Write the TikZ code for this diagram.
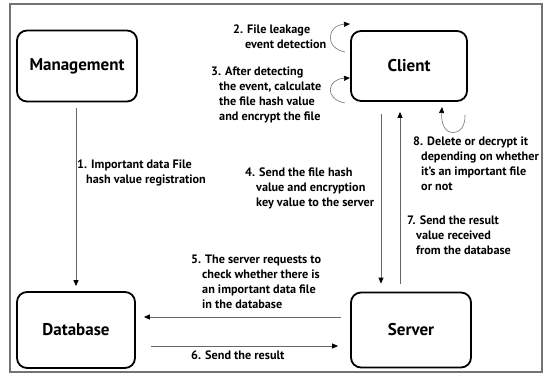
\documentclass[tikz,border=0pt]{standalone}
\usepackage{fontspec}
\setmainfont{PT Sans}
\usetikzlibrary{arrows.meta,calc}
\begin{document}
\begin{tikzpicture}[x=1pt,y=-1pt,
  box/.style={draw=black,line width=1.8pt,rounded corners=10pt,align=center,
    font=\fontsize{17}{20}\selectfont\bfseries},
  lbl/.style={anchor=north west,inner sep=0pt,align=left,
    font=\fontsize{12.2}{15}\selectfont\bfseries},
  arr/.style={draw=black!60,line width=0.8pt,-{Triangle[length=6pt,width=5pt,fill=black,color=black]}},
  loop/.style={draw=black!55,line width=0.6pt,-{Triangle[length=6pt,width=5pt,fill=black,color=black]}}]
\useasboundingbox (0,0) rectangle (548,375);
\draw[black!55,line width=1.2pt] (10,4) rectangle (542,372);

\node[box,minimum width=120pt,minimum height=71pt] (mgmt) at (77,66) {Management};
\node[box,minimum width=116pt,minimum height=70pt] (client) at (409,66) {Client};
\node[box,minimum width=118pt,minimum height=76pt] (db) at (76,330) {Database};
\node[box,minimum width=120pt,minimum height=75pt] (server) at (411,330) {Server};

% 1
\draw[arr,shorten <=6pt,shorten >=5pt] ([xshift=-1pt]mgmt.south) -- ([xshift=-1pt]mgmt.south |- db.north);
% 4 and 7
\draw[arr,shorten <=12pt,shorten >=8pt] ([xshift=-28pt]client.south) -- ([xshift=-28pt]client.south |- server.north);
\draw[arr,shorten <=8pt,shorten >=10pt] ([xshift=-9pt]client.south |- server.north) -- ([xshift=-9pt]client.south);
% 5 and 6
\draw[arr,shorten <=9pt,shorten >=8pt] ([yshift=13pt]server.west) -- ([yshift=13pt]server.west -| db.east);
\draw[arr,shorten <=15pt,shorten >=12pt] ([yshift=-16pt]db.east) -- ([yshift=-16pt]db.east -| server.west);

% loops
\coordinate (l2s) at (345,52);
\coordinate (l2e) at (350,24);
\draw[loop] (l2s) .. controls (324,48) and (327,25) .. (l2e);
\coordinate (l3s) at (345,103);
\coordinate (l3e) at (350,78);
\draw[loop] (l3s) .. controls (324,99) and (327,79) .. (l3e);
\coordinate (l8s) at (465,115);
\coordinate (l8e) at (442,107);
\draw[loop] (l8s) .. controls (466,138) and (440,140) .. (l8e);

% labels
\node[lbl] (t1) at (77,160) {1. Important data File\\\hspace*{9pt}hash value registration};
\node[lbl] (t2) at (233,25) {2. File leakage\\\hspace*{12pt}event detection};
\node[lbl] (t3) at (211,67) {3. After detecting\\\hspace*{8pt}the event, calculate\\\hspace*{8pt}the file hash value\\\hspace*{8pt}and encrypt the file};
\node[lbl] (t4) at (245,168) {4. Send the file hash\\\hspace*{11pt}value and encryption\\\hspace*{11pt}key value to the server};
\node[lbl] (t5) at (191,255) {5. The server requests to\\\hspace*{11pt}check whether there is\\\hspace*{11pt}an important data file\\\hspace*{11pt}in the database};
\node[lbl] (t6) at (191,351) {6. Send the result};
\node[lbl] (t7) at (407,216) {7. Send the result\\\hspace*{9pt}value received\\\hspace*{9pt}from the database};
\node[lbl] (t8) at (413,137) {8. Delete or decrypt it\\\hspace*{8pt}depending on whether\\\hspace*{8pt}it's an important file\\\hspace*{8pt}or not};
\end{tikzpicture}
\end{document}
